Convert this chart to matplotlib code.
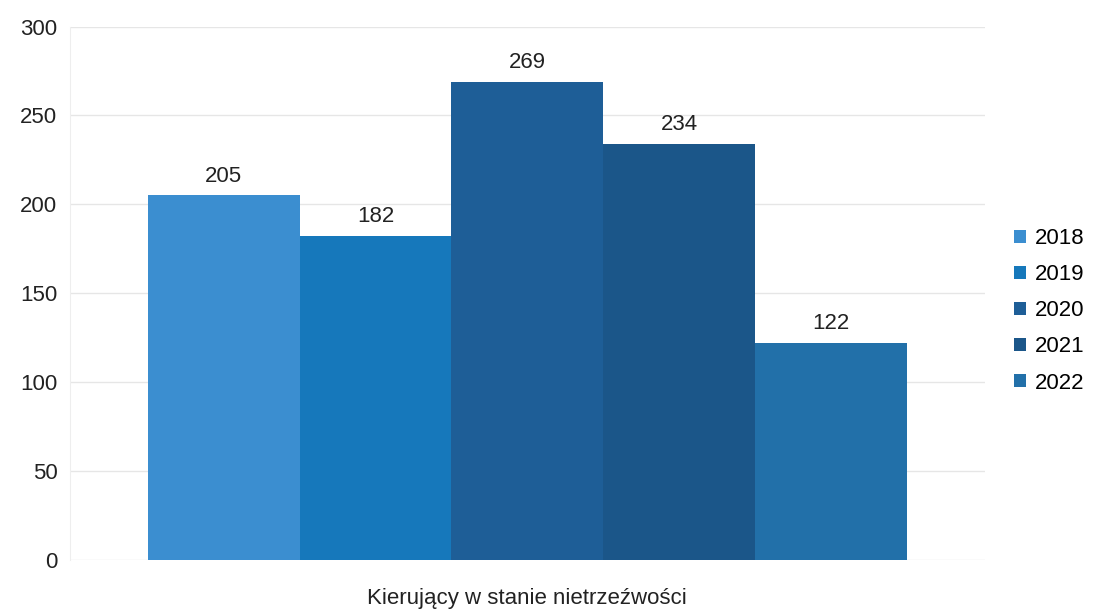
import matplotlib
matplotlib.use("Agg")
import matplotlib.pyplot as plt
import numpy as np

plt.rcParams['font.family'] = ['Liberation Sans', 'DejaVu Sans']

category = "Kierujący w stanie nietrzeźwości"
years = ["2018", "2019", "2020", "2021", "2022"]
values = [205, 182, 269, 234, 122]
colors = ["#3b8ed0", "#1678bb", "#1e5e97", "#1b5689", "#2270a9"]

fig = plt.figure(figsize=(10.93, 6.11), dpi=100)
ax = fig.add_axes([0.064, 0.0835, 0.837, 0.873])

n = len(values)
group_w = 0.83
bw = group_w / n
for i, (y, v, c) in enumerate(zip(years, values, colors)):
    x = -group_w / 2 + bw * (i + 0.5)
    ax.bar(x, v, width=bw, color=c, label=y, zorder=2)
    ax.text(x, v + 5, str(v), ha='center', va='bottom', fontsize=16, color='#222222')

ax.set_xlim(-0.5, 0.5)
ax.set_ylim(0, 300)
ax.set_yticks(np.arange(0, 301, 50))
ax.set_xticks([0])
ax.set_xticklabels([category], fontsize=16, color='#222222')
ax.tick_params(axis='x', length=0, pad=20)
ax.tick_params(axis='y', length=0, labelsize=16, labelcolor='#222222', pad=9)
ax.yaxis.grid(True, color='#e6e6e6', linewidth=1, zorder=0)
for s in ['top', 'right', 'bottom']:
    ax.spines[s].set_visible(False)
ax.spines['left'].set_color('#eeeeee')

leg = ax.legend(loc='center left', bbox_to_anchor=(1.01, 0.467), frameon=False,
                fontsize=16, handlelength=0.55, handleheight=0.55, handletextpad=0.4,
                labelspacing=0.68)

fig.savefig("out.png", dpi=100, facecolor='white')
